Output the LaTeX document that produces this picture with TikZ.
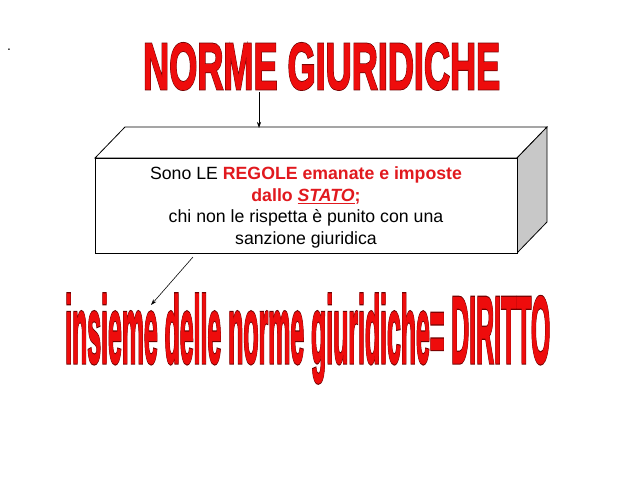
\documentclass[tikz,border=0pt]{standalone}
\usepackage{fontspec}
\usepackage{graphicx}
\setmainfont{Liberation Sans}
\newfontfamily\artfont[FakeBold=1.2]{Liberation Sans Bold}
\newfontfamily\artoutfont[FakeBold=3.6]{Liberation Sans Bold}
\usetikzlibrary{arrows.meta}
\definecolor{artred}{RGB}{238,12,12}
\definecolor{artdark}{RGB}{110,0,0}
\definecolor{txtred}{RGB}{225,25,30}
\definecolor{sidegray}{RGB}{200,200,200}
\newcommand{\wordart}[1]{\rlap{\color{artdark}\artoutfont #1}{\color{artred}\artfont #1}}
\tikzset{
  conn/.style={draw=black, line width=0.6pt, -{Stealth[length=6pt,width=4pt]}},
  face/.style={draw=black, line width=0.8pt},
}
\begin{document}
\begin{tikzpicture}[x=1pt,y=-1pt]
\useasboundingbox (0,0) rectangle (638,479);
\node[anchor=base, inner sep=0] (dot) at (9,50) {\fontsize{14}{14}\selectfont .};
\node[anchor=south west, inner sep=0] (title) at (143,90)
  {\resizebox{357pt}{46pt}{\wordart{NORME GIURIDICHE}}};
\node[anchor=base west, inner sep=0] (bottom) at (65,363)
  {\resizebox{485pt}{69pt}{\wordart{insieme delle norme giuridiche= DIRITTO}}};
% box
\coordinate (FL) at (95,158);
\coordinate (FR) at (517,158);
\coordinate (BR) at (517,253);
\coordinate (BL) at (95,253);
\coordinate (TL) at (125,127);
\coordinate (TR) at (547,127);
\coordinate (SR) at (547,222);
\filldraw[fill=white, face] (FL) -- (TL) -- (TR) -- (FR) -- cycle;
\filldraw[fill=sidegray, face] (FR) -- (TR) -- (SR) -- (BR) -- cycle;
\node[face, fill=white, minimum width=422pt, minimum height=95pt, inner sep=0] (front) at (306,205.5) {};
\node[inner sep=0, align=center, font=\fontsize{17.7}{21.5}\selectfont] (label) at ([yshift=-2pt]front.center)
  {Sono LE {\color{txtred}\bfseries REGOLE emanate e imposte}\\
   {\color{txtred}\bfseries dallo \underline{\itshape STATO};}\\
   chi non le rispetta è punito con una\\
   sanzione giuridica};
\coordinate (topin) at (259,92);
\coordinate (toptgt) at (259,128);
\draw[conn] (topin) -- (toptgt);
\coordinate (botin) at (193,257);
\coordinate (bottgt) at (151,305);
\draw[conn] (botin) -- (bottgt);
\end{tikzpicture}
\end{document}
